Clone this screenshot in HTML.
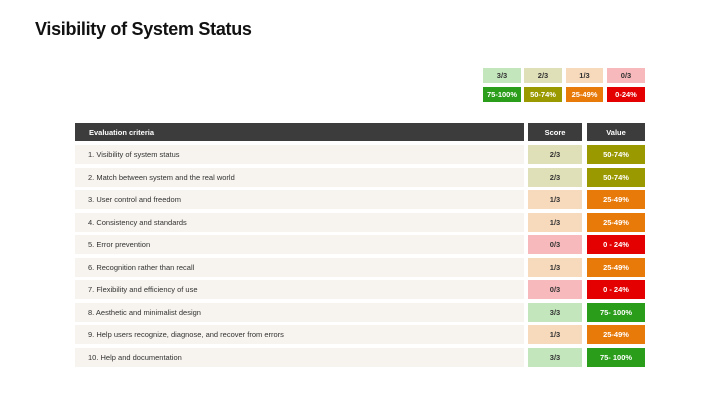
<!DOCTYPE html>
<html><head><style>
body{margin:0;width:720px;height:405px;background:#fff;font-family:"Liberation Sans",sans-serif;position:relative;overflow:hidden}
.a{position:absolute;box-sizing:border-box;font-size:7.5px;display:flex;align-items:center}
.c{justify-content:center}
.t{position:absolute;left:35px;top:19px;font-size:18px;font-weight:bold;color:#111;letter-spacing:-0.3px}
.w{color:#fff;font-weight:bold}
.s{color:#333;font-weight:bold}
</style></head><body>
<div class="t">Visibility of System Status</div>
<div class="a c s" style="left:483px;top:68px;width:38px;height:15px;background:#c4e6bd">3/3</div>
<div class="a c s" style="left:524px;top:68px;width:38px;height:15px;background:#e0e0b8">2/3</div>
<div class="a c s" style="left:566px;top:68px;width:37px;height:15px;background:#f7d9bb">1/3</div>
<div class="a c s" style="left:607px;top:68px;width:38px;height:15px;background:#f7b9bb">0/3</div>
<div class="a c w" style="left:483px;top:87px;width:38px;height:15px;background:#2a9d1a">75-100%</div>
<div class="a c w" style="left:524px;top:87px;width:38px;height:15px;background:#9a9a00">50-74%</div>
<div class="a c w" style="left:566px;top:87px;width:37px;height:15px;background:#e87a0a">25-49%</div>
<div class="a c w" style="left:607px;top:87px;width:38px;height:15px;background:#e40000">0-24%</div>
<div class="a w" style="left:75px;top:123px;width:449px;height:18px;background:#3c3c3c;padding-left:14px">Evaluation criteria</div>
<div class="a c w" style="left:528px;top:123px;width:54px;height:18px;background:#3c3c3c">Score</div>
<div class="a c w" style="left:587px;top:123px;width:58px;height:18px;background:#3c3c3c">Value</div>
<div id="rows"></div>
<script>
var d=[["1.  Visibility of system status",2],["2.  Match between system and the real world",2],["3.  User control and freedom",1],["4.  Consistency and standards",1],["5.  Error prevention",0],["6.  Recognition rather than recall",1],["7.  Flexibility and efficiency of use",0],["8.  Aesthetic and minimalist design",3],["9.  Help users recognize, diagnose, and recover from errors",1],["10.  Help and documentation",3]];
var L=["#f7b9bb","#f7d9bb","#e0e0b8","#c4e6bd"],D=["#e40000","#e87a0a","#9a9a00","#2a9d1a"],V=["0 - 24%","25-49%","50-74%","75- 100%"];
var h="";
d.forEach(function(r,i){var y=145+i*22.55;
h+='<div class="a" style="left:75px;top:'+y+'px;width:449px;height:19px;background:#f7f4ef;padding-left:13px;color:#333">'+r[0]+'</div>';
h+='<div class="a c s" style="left:528px;top:'+y+'px;width:54px;height:19px;background:'+L[r[1]]+'">'+r[1]+'/3</div>';
h+='<div class="a c w" style="left:587px;top:'+y+'px;width:58px;height:19px;background:'+D[r[1]]+'">'+V[r[1]]+'</div>';});
document.getElementById("rows").innerHTML=h;
</script>
</body></html>
